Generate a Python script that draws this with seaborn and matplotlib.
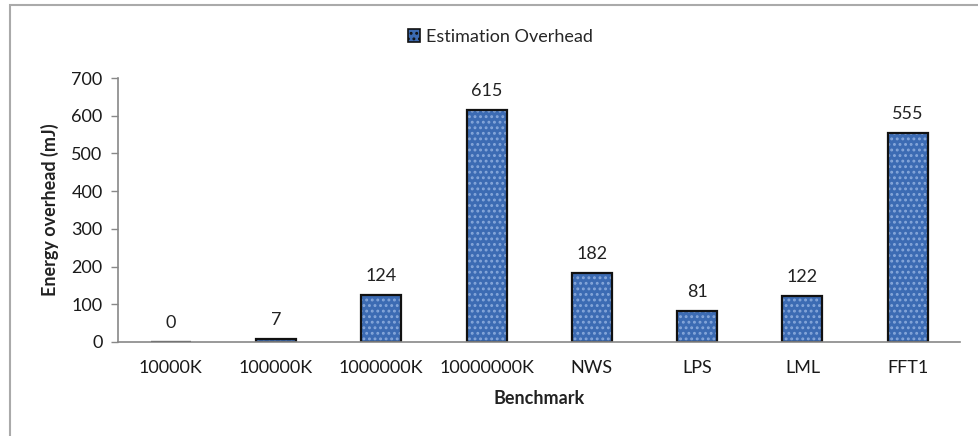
import matplotlib
matplotlib.use("Agg")
import matplotlib.pyplot as plt
import seaborn as sns
import pandas as pd
from matplotlib.patches import Rectangle, Patch

benchmarks = ["10000K", "100000K", "1000000K", "10000000K", "NWS", "LPS", "LML", "FFT1"]
overhead_mj = [0, 7, 124, 615, 182, 81, 122, 555]
y_ticks = [0, 100, 200, 300, 400, 500, 600, 700]
series_name = "Estimation Overhead"

sns.set_theme(style="white")
plt.rcParams["font.family"] = ["Lato", "DejaVu Sans"]
plt.rcParams["hatch.linewidth"] = 1.3

df = pd.DataFrame({"Benchmark": benchmarks, "Overhead": overhead_mj})

fig = plt.figure(figsize=(9.79, 4.36), dpi=100)
ax = fig.add_axes([0.1205, 0.2156, 0.8605, 0.6054])

bar_face = "#3C6BB3"
dot_color = "#86A7DA"
fs = 13

# filled bars with dotted texture
sns.barplot(data=df, x="Benchmark", y="Overhead", ax=ax, color=bar_face,
            width=0.38, saturation=1, edgecolor=dot_color, linewidth=0, hatch="...")
# dark outlines drawn on top
sns.barplot(data=df, x="Benchmark", y="Overhead", ax=ax, facecolor="none",
            width=0.38, saturation=1, edgecolor="#111111", linewidth=1.6)

for i, v in enumerate(overhead_mj):
    ax.annotate(f"{v}", xy=(i, v), xytext=(0, 8), textcoords="offset points",
                ha="center", va="bottom", fontsize=fs, color="#222222")

ax.set_ylim(0, 700)
ax.set_xlim(-0.5, len(benchmarks) - 0.5)
ax.set_yticks(y_ticks)
ax.set_yticklabels([str(t) for t in y_ticks])
ax.tick_params(axis="y", length=5, width=1, color="#888888", direction="out",
               labelsize=fs, labelcolor="#1a1a1a", pad=6, left=True)
ax.tick_params(axis="x", length=0, labelsize=fs, labelcolor="#1a1a1a", pad=13)

for side in ["top", "right"]:
    ax.spines[side].set_visible(False)
for side in ["left", "bottom"]:
    ax.spines[side].set_color("#888888")
    ax.spines[side].set_linewidth(1.2)

ax.set_xlabel("Benchmark", fontsize=fs, fontweight="bold", color="#222222", labelpad=10)
ax.set_ylabel("Energy overhead (mJ)", fontsize=fs, fontweight="bold", color="#222222", labelpad=9)

handle = Patch(facecolor=bar_face, edgecolor="#111111", hatch="...", linewidth=1.2)
fig.legend([handle], [series_name], loc="center", bbox_to_anchor=(500 / 979, 1 - 37 / 436),
           frameon=False, fontsize=fs, handlelength=0.7, handleheight=0.7,
           handletextpad=0.3)

# outer chart frame
fig.patches.append(Rectangle((10 / 979, -0.05), 1.2, 1 - 5 / 436 + 0.05,
                             transform=fig.transFigure, fill=False,
                             edgecolor="#AAAAAA", linewidth=1.5, zorder=0))

fig.savefig("out.png", dpi=100)
